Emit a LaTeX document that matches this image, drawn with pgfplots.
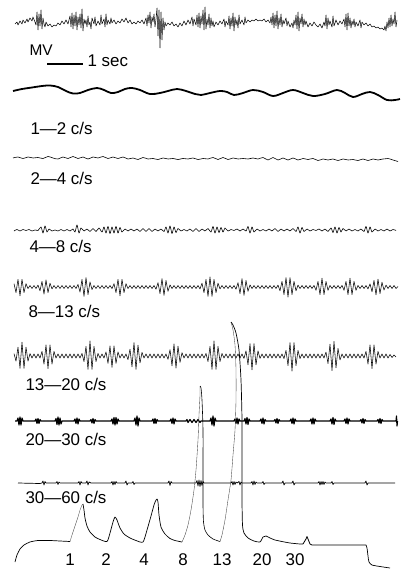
\documentclass[border=0pt]{standalone}
\usepackage{pgfplots}
\pgfplotsset{compat=1.18}
\usepackage{fontspec}
\setmainfont{Liberation Sans}
\tikzset{
  lab/.style={anchor=base west, font=\fontsize{17}{19}\selectfont},
  num/.style={anchor=base, font=\fontsize{17}{19}\selectfont},
}
\begin{document}
\begin{tikzpicture}
\begin{axis}[
  x=1bp, y=1bp, xmin=0, xmax=403, ymin=0, ymax=574, y dir=reverse,
  axis line style={draw=none}, ticks=none, clip=false,
  every axis plot/.append style={no marks, line join=round, black},
]
% raw EEG
\addplot[line width=0.5pt] coordinates {
(15,24)(17,22)(18,25)(20,21)(22,24)(23,20)(25,23)(27,19)(28,22)(30,18)(32,21)(33,17)(35,22)
(36,25)(37,12)(38,30)(39,14)(40,26)(41,10)(42,29)(43,18)(44,24)(45,27)(46,22)(48,26)(50,24)(52,27)(54,25)(56,26)(58,23)(60,25)(62,21)(64,24)(66,20)(68,24)
(70,16)(71,27)(72,13)(73,29)(74,15)(75,26)(76,12)(77,30)(78,17)(79,25)(80,14)(81,28)(82,9)(83,31)(84,19)(85,24)(86,20)(87,27)(88,16)(89,25)(90,22)(91,29)(92,18)(94,24)(95,17)(96,26)(98,21)(100,25)(101,15)(102,24)(104,19)(105,27)(106,14)(107,25)(108,20)(110,24)(111,18)(112,23)(114,20)(116,24)(118,21)(120,23)(122,19)(124,22)(126,18)(128,23)(130,20)(132,24)(134,22)(136,24)(138,21)(140,23)(142,20)(144,24)
(146,18)(147,26)(148,15)(149,23)(150,12)(151,28)(152,17)(153,22)(154,14)(155,27)(156,19)(157,8)(158,36)(159,10)(160,48)(161,12)(162,40)(163,18)(164,30)(165,22)(166,26)(168,23)(170,25)(172,22)(174,26)(176,24)(178,27)(180,23)(182,26)(184,21)(186,25)(188,20)(190,24)(192,17)(193,26)(194,19)(196,25)(197,15)(198,27)(199,13)(200,28)(201,16)(202,24)(203,10)(204,30)(205,7)(206,29)(207,19)(208,25)(209,14)(210,28)(211,18)(212,26)(213,21)(214,27)(216,22)(218,25)(220,21)(222,24)(224,19)(225,27)(226,21)(228,25)(229,16)(230,29)(231,18)(232,26)(233,13)(234,31)(235,17)(236,25)(237,20)(238,28)(239,15)(240,24)(242,20)(244,25)(245,17)(246,23)(248,20)(250,22)(252,20)(254,21)(256,19)(258,21)(260,20)(262,21)(264,19)(266,22)(268,20)
(270,23)(271,17)(272,25)(273,13)(274,28)(275,15)(276,26)(277,11)(278,29)(279,18)(280,25)(281,14)(282,27)(283,20)(284,24)(286,18)(287,26)(288,21)(290,27)(292,23)(293,28)(294,20)(295,25)(296,15)(297,29)(298,12)(299,31)(300,18)(301,24)(302,14)(303,27)(304,19)(305,25)(306,21)(308,27)(310,23)(312,26)(314,22)(316,25)(318,27)(320,24)(322,28)(324,22)(325,26)(326,15)(327,29)(328,18)(329,25)(330,21)(332,27)(333,16)(334,26)(336,20)(338,25)(340,21)(342,24)(344,19)(345,27)(346,14)(347,30)(348,13)(349,26)(350,18)(351,28)(352,21)(353,25)(354,19)(355,27)(356,22)(358,26)(360,20)(361,28)(362,22)(364,25)(366,23)(368,26)(370,24)(372,27)(374,26)(376,28)(378,27)(380,29)(382,28)(384,30)(385,26)(386,31)(387,22)(388,28)(389,18)(390,27)(391,15)(392,26)(393,19)(394,24)(395,12)(396,27)(397,20)
};
% scale bar
\addplot[line width=1.3pt] coordinates {(47,64)(83,64)};
\node[anchor=base west, font=\fontsize{15.5}{17}\selectfont] at (axis cs:26,56) {MV};
\node[lab] at (axis cs:84,67) {1 sec};
% 1-2 c/s
\addplot[line width=1.8pt, smooth, tension=0.6] coordinates {
(13,91)(22,89)(32,87.5)(42,86)(50,85.5)(58,87)(66,91)(73,93.5)(80,93)(88,90)(97,88)(104,90)(111,93)(118,92)(125,89)(132,88)(140,90)(150,94)(160,93)(168,91)(177,89)(186,91)(195,94)(201,95)(210,93)(220,91)(227,92)(234,95)(243,93)(253,90)(263,92)(273,96)(283,93)(293,90)(303,93)(313,96)(325,94)(337,90)(345,93)(353,97)(362,94)(370,92)(378,95)(387,100)(395,100)(400,99)
};
\node[lab] at (axis cs:27,135) {1—2 c/s};
% 2-4 c/s
\addplot[line width=0.6pt, smooth, tension=0.6] coordinates {
(13,158)(18,157)(23,158.5)(28,157)(33,158)(38,157.5)(43,158.5)(48,156.5)(53,158)(58,159)(63,157)(68,158.5)(73,156.5)(78,158.5)(83,157)(88,159)(93,157)(98,158)(103,156.5)(108,158.5)(113,157)(118,158.5)(123,157)(128,159)(133,158)(138,159.5)(143,157.5)(148,159)(153,158.5)(158,159.5)(163,158)(168,159)(173,158.5)(178,159.5)(183,158.5)(188,159)(193,158)(198,159.5)(203,158.5)(208,159)(213,157.5)(218,159.5)(223,157.5)(228,159.5)(233,158)(238,159)(243,158.5)(248,159)(253,158)(258,159)(263,157.5)(268,160)(273,157.5)(278,160)(283,158)(288,160)(293,158)(298,160)(303,158.5)(308,159.5)(313,158.5)(318,160.5)(323,159)(328,160)(333,159)(338,160.5)(343,159)(348,160)(353,159.5)(358,160.5)(363,159)(368,160.5)(373,159)(378,160)(383,159)(388,158.5)(393,160)(398,161.5)
};
\node[lab] at (axis cs:27,184) {2—4 c/s};
% 4-8 c/s
\addplot[line width=0.6pt, smooth, tension=0.5] coordinates {
(14,231)(17,229.5)(20,231)(23,229.5)(26,230.5)(29,229.5)(32,231)(35,230)(38,230.5)(41,227)(43,233)(45,226)(47,232)(49,229)(52,231)(55,230)(58,231)(61,229.5)(64,231)(67,229.5)(70,231)(73,229)(75,232)(77,225)(79,233)(81,228)(84,231)(87,229)(90,231.5)(93,228.5)(96,231.5)(99,228)(102,232)(104,227)(106,233)(108,226.5)(110,233.5)(112,227)(114,233)(116,226.5)(118,233)(120,227.5)(122,232)(125,229)(128,231)(131,229)(134,231)(137,229)(140,231.5)(143,228.5)(146,231.5)(149,228.5)(152,231.5)(155,229)(158,231)(161,229)(164,231.5)(166,227)(168,233)(170,226)(172,233.5)(174,227)(176,232.5)(178,228.5)(181,231)(184,229.5)(187,231)(190,229)(193,231.5)(196,228.5)(199,231.5)(202,229)(205,231)(208,228.5)(211,232)(213,226.5)(215,233)(217,227)(219,232.5)(221,227.5)(223,232)(225,228)(228,231)(231,229.5)(234,230.5)(237,229)(240,231)(243,229)(246,231)(248,226.5)(250,233)(252,227)(254,232)(257,229)(260,231)(263,229.5)(266,231)(269,229)(272,231)(275,228.5)(278,231.5)(281,229)(284,231)(287,229)(290,231)(293,228.5)(296,231.5)(298,227)(300,233)(302,227.5)(304,231.5)(307,229)(310,231)(313,229.5)(316,230.5)(319,229)(322,231)(325,229)(328,231.5)(331,228)(333,232.5)(335,227)(337,233)(339,227.5)(341,232)(343,228.5)(346,231)(349,229)(352,231)(355,229.5)(358,231)(361,229)(364,231.5)(366,226.5)(368,233)(370,227)(372,232)(375,229)(378,231)(381,229.5)(384,231)(387,229)(390,231)(393,229.5)(396,230.5)
};
\node[lab] at (axis cs:26,252) {4—8 c/s};
% 8-13 c/s
\addplot[line width=0.55pt] coordinates {
(14,283.75)(16,292.5)(18,279.4)(20,295.75)(22,279.4)(24,292.5)(26,283.75)(28,288.6)(30,285.5)(32,288.5)(34,285.5)(36,288.5)(38,285.1)(40,290.75)(42,281.4)(44,294)(46,280)(48,292.6)(50,283.25)(52,288.9)(54,285.5)(56,288.5)(58,285.5)(60,288.5)(62,285.5)(64,288.5)(66,285.5)(68,288.5)(70,285.5)(72,288.5)(74,285.5)(76,288.5)(78,284.5)(80,292)(82,279.5)(84,296.4)(86,277.6)(88,294.5)(90,282)(92,289.5)(94,285.5)(96,288.5)(98,285.5)(100,288.5)(102,285.5)(104,288.5)(106,285.5)(108,288.5)(110,285.5)(112,288.6)(114,283.75)(116,292.5)(118,279.4)(120,295.75)(122,279.4)(124,292.5)(126,283.75)(128,288.6)(130,285.5)(132,288.5)(134,285.5)(136,288.5)(138,285.5)(140,288.5)(142,285.5)(144,288.5)(146,285.5)(148,288.5)(150,285.5)(152,288.5)(154,285.5)(156,289.2)(158,282.6)(160,293.6)(162,278.75)(164,295.25)(166,280.5)(168,291.4)(170,284.9)(172,288.5)(174,285.5)(176,288.5)(178,285.5)(180,288.5)(182,285.5)(184,288.5)(186,285.5)(188,288.5)(190,285.5)(192,288.5)(194,285.5)(196,288.5)(198,285.5)(200,288.9)(202,283.25)(204,292.6)(206,279.5)(208,296.4)(210,277)(212,296.4)(214,279.5)(216,292.6)(218,283.25)(220,288.9)(222,285.5)(224,288.5)(226,285.5)(228,288.5)(230,285.5)(232,288.5)(234,285.5)(236,289.2)(238,282.6)(240,293.6)(242,278.75)(244,295.25)(246,280.5)(248,291.4)(250,284.9)(252,288.5)(254,285.5)(256,288.5)(258,285.5)(260,288.5)(262,285.5)(264,288.5)(266,285.5)(268,288.5)(270,285.5)(272,288.5)(274,285.5)(276,288.5)(278,285.1)(280,290.75)(282,281.4)(284,294.5)(286,277.6)(288,297)(290,277.6)(292,294.5)(294,281.4)(296,290.75)(298,285.1)(300,288.5)(302,285.5)(304,288.5)(306,285.5)(308,288.5)(310,285.5)(312,288.5)(314,285.4)(316,290.25)(318,281.5)(320,294.6)(322,278.25)(324,294.6)(326,281.5)(328,290.25)(330,285.4)(332,288.5)(334,285.5)(336,288.5)(338,285.5)(340,288.5)(342,285.4)(344,290.25)(346,281.5)(348,294.6)(350,278.25)(352,294.6)(354,281.5)(356,290.25)(358,285.4)(360,288.5)(362,285.5)(364,288.5)(366,285.5)(368,288.9)(370,283.9)(372,291.75)(374,280.4)(376,294.9)(378,279.1)(380,293.6)(382,282.25)(384,290.1)(386,285.1)(388,288.5)(390,285.5)(392,288.5)(394,285.5)(396,288.5)(398,286.5)
};
\node[lab] at (axis cs:25,317) {8—13 c/s};
% 13-20 c/s
\addplot[line width=0.55pt] coordinates {
(14,353.6)(16,361.1)(18,347.2)(20,368.3)(22,342.2)(24,368.3)(26,347.2)(28,361.1)(30,353.6)(32,358)(34,354)(36,358)(38,354)(40,358.1)(42,351.4)(44,364)(46,344.9)(48,368.5)(50,344.9)(52,364)(54,351.4)(56,358.1)(58,354)(60,358)(62,354)(64,358)(66,354)(68,358)(70,354)(72,358)(74,354)(76,358)(78,354)(80,358)(82,353.5)(84,361.5)(86,346.4)(88,369.4)(90,341)(92,369.4)(94,346.4)(96,361.5)(98,353.5)(100,358)(102,354)(104,358)(106,351.9)(108,363.3)(110,346)(112,367.3)(114,346)(116,363.3)(118,351.9)(120,358)(122,354)(124,358)(126,354)(128,359.6)(130,349.1)(132,366.8)(134,342.6)(136,369.4)(138,345.2)(140,362.9)(142,352.4)(144,358)(146,354)(148,358)(150,354)(152,358)(154,354)(156,358)(158,354)(160,358)(162,354)(164,358)(166,354)(168,359.3)(170,349.7)(172,365.8)(174,343.9)(176,368.1)(178,346.2)(180,362.3)(182,352.7)(184,358)(186,354)(188,358)(190,354)(192,358)(194,354)(196,358)(198,354)(200,358)(202,354)(204,358)(206,353.5)(208,361.5)(210,346.4)(212,369.4)(214,341)(216,369.4)(218,346.4)(220,361.5)(222,353.5)(224,358)(226,354)(228,358)(230,354)(232,358)(234,354)(236,358)(238,354)(240,358)(242,354)(244,358.4)(246,350.9)(248,364.8)(250,343.7)(252,369.8)(254,343.7)(256,364.8)(258,350.9)(260,358.4)(262,354)(264,358)(266,354)(268,358)(270,354)(272,358)(274,354)(276,358)(278,354)(280,358)(282,354)(284,358.5)(286,350.5)(288,365.6)(290,342.6)(292,371)(294,342.6)(296,365.6)(298,350.5)(300,358.5)(302,354)(304,358)(306,354)(308,358)(310,354)(312,358)(314,354)(316,358)(318,354)(320,358)(322,354)(324,358)(326,352.1)(328,363.5)(330,344.2)(332,370.5)(334,341.5)(336,367.8)(338,348.5)(340,359.9)(342,354)(344,358)(346,354)(348,358)(350,354)(352,358)(354,354)(356,358)(358,354)(360,358)(362,354)(364,358.1)(366,351.4)(368,364)(370,344.9)(372,368.5)(374,344.9)(376,364)(378,351.4)(380,358.1)(382,354)(384,358)(386,354)(388,358)(390,354.5)(392,357.5)(394,355)(396,357)
};
\node[lab] at (axis cs:22,390) {13—20 c/s};
% 20-30 c/s
\addplot[line width=1.2pt] coordinates {
(15,421)(17,421)(18,418)(19,425)(20,417)(21,425)(22,418)(23,421)
(35,421)(36,419)(37,423.5)(38,418.5)(39,423.5)(40,419.5)(41,421)
(55,421)(56,418.5)(57,424.5)(58,417)(59,425)(60,418)(61,424)(62,421)
(74,421)(75,419)(76,423.5)(77,418)(78,424)(79,419)(80,421)
(90,421)(91,419.5)(92,423)(93,418.5)(94,423.5)(95,419.5)(96,421)
(111,421)(112,419)(113,424)(114,417.5)(115,425)(116,417.5)(117,424)(118,419)(119,421)
(134,421)(135,418)(136,425)(137,416)(138,426)(139,418)(140,421)
(152,421)(153,419)(154,423.5)(155,418.5)(156,423.5)(157,419.5)(158,421)
(170,421)(171,419)(172,423.5)(173,418)(174,424)(175,419)(176,421)
(186,421)(187,419.5)(188,422.5)(190,419.5)(192,422.5)(194,419.5)(196,422.5)(198,419.5)(200,422.5)(201,421)
(210,421)(211,418)(212,425)(213,416)(214,426)(215,418)(216,421)
(234,421)(235,419)(236,423.5)(237,418)(238,424)(239,419)(240,421)
(244,421)(245,418.5)(246,424)(247,417.5)(248,424.5)(249,419)(250,421)
(260,421)(261,419)(262,423.5)(263,418)(264,424)(265,419.5)(266,421)
(274,421)(275,419.5)(276,423)(277,418.5)(278,423.5)(279,419.5)(280,421)
(290,421)(291,419)(292,423.5)(293,418)(294,424)(295,419)(296,421)
(310,421)(311,419)(312,424)(313,418)(314,424)(315,419)(316,421)
(330,421)(331,419)(332,424)(333,417.5)(334,424.5)(335,419)(336,421)
(344,421)(345,419)(346,423.5)(347,418)(348,424)(349,419)(350,421)
(360,421)(361,419.5)(362,423)(363,418.5)(364,423.5)(365,419.5)(366,421)
(377,421)(378,419.5)(379,423)(380,418.5)(381,423.5)(382,419.5)(383,421)
(394,421)(396,421)(396.5,416)(397,426)(397.5,421)
};
\node[lab] at (axis cs:22,445) {20—30 c/s};
% 30-60 c/s
\addplot[line width=0.7pt] coordinates {
(18,483)(40,483.5)(42,483)(43,481)(44,485)(45,481.5)(46,483)(56,483)(57,481.5)(58,484.5)(59,482)(60,483)(78,483)(79,481.5)(80,485)(81,481.5)(82,483)(86,483)(87,481)(88,485)(89,482)(91,483)(111,483)(112,481.5)(113,485)(114,481.5)(115,484.5)(116,481.5)(117,483)(125,483)(126,481)(127,485)(128,483)(132,483)(133,481.5)(134,484.5)(135,483)(168,483)(169,481)(170,485.5)(171,481.5)(172,483)(196,483)(197,480.5)(198,486)(199,480)(200,486.5)(201,480.5)(202,485.5)(203,481.5)(204,483)(231,483)(232,481.5)(233,485)(234,481.5)(235,484.5)(236,482)(237,483)(239,481.5)(240,485)(241,482)(242,483)(251,483)(252,481.5)(253,485)(254,481)(255,484.5)(256,482)(257,483)(262,483)(263,481.5)(264,484.5)(265,483)(282,483)(283,481)(284,485)(285,483)(292,483)(293,481)(294,485)(295,483)(318,483)(319,481.5)(320,485)(321,481.5)(322,484.5)(323,481.5)(324,484.5)(325,482)(326,483)(331,483)(332,481.5)(333,484.5)(334,483)(365,483)(366,481)(367,485)(368,483)(395,483)
};
\node[lab] at (axis cs:22,503) {30—60 c/s};
% calibration / frequency response trace
\addplot[line width=0.7pt, smooth, tension=0.4] coordinates {
(15,562)(17,555)(20,549)(24,545)(30,542)(38,540.5)(50,540.5)(60,541)(70,541.5)
};
\addplot[line width=0.35pt, black!70] coordinates {
(70,541.5)(72,535)(75,526)(78,517)(80,510)(82,505)(83,504)
};
\addplot[line width=0.7pt, smooth, tension=0.4] coordinates {
(83,504)(84,510)(85,518)(87,526)(90,532)(95,537)(100,539.5)(107,541.5)(110,533)(113,522)(115,517)(117,520)(120,528)(124,534)(130,538)(136,540.5)(143,542)(147,530)(151,516)(154,505)(156,500)(157,499)(158,502)(159,515)(161,527)(165,534)(170,538.5)(175,540.5)(182,542)
};
\addplot[line width=0.35pt, black!75, smooth, tension=0.4] coordinates {
(182,542)(185,535)(188,525)(191,510)(194,490)(196,470)(198,440)(199,415)(200,395)(200,386)
};
\addplot[line width=0.6pt, smooth, tension=0.4] coordinates {
(200,386)(201,388)(202,400)(203,430)(203,470)(203,505)(203.5,522)(205,530)(208,535)(213,539)(220,541.5)
};
\addplot[line width=0.35pt, black!75, smooth, tension=0.4] coordinates {
(220,541.5)(222,535)(225,520)(228,500)(231,480)(233,455)(235,430)(236,400)(236,370)(235,345)(233,330)(231,322)
};
\addplot[line width=0.7pt, smooth, tension=0.4] coordinates {
(231,322)(233,325)(236,333)(239,350)(241,380)(242,420)(242,460)(242,500)(242.5,525)(244,533)(248,538)(254,541)(260,542)(263,537)(266,536)(270,538)(275,540)(282,541.5)(290,543)(300,544)(303,544)
};
\addplot[line width=0.8pt] coordinates {
(303,544)(306,539)(307,536.5)(308,539)(310,544)(312,545)(330,545)(350,545)(366,545)
};
\addplot[line width=0.7pt, smooth, tension=0.4] coordinates {
(366,545)(367,548)(368,556)(369,562)(372,565)(380,566.5)(390,568)
};
\node[num] at (axis cs:70,565) {1};
\node[num] at (axis cs:106,565) {2};
\node[num] at (axis cs:144,565) {4};
\node[num] at (axis cs:183,565) {8};
\node[num] at (axis cs:222,565) {13};
\node[num] at (axis cs:262,565) {20};
\node[num] at (axis cs:295,565) {30};
\end{axis}
\end{tikzpicture}
\end{document}
